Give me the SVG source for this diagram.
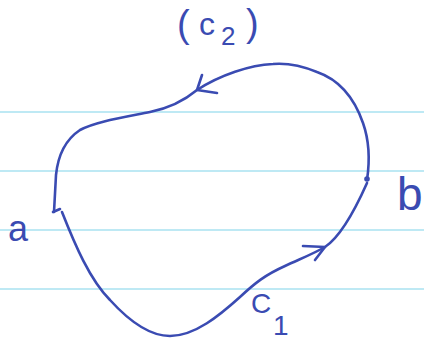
<svg xmlns="http://www.w3.org/2000/svg" width="424" height="341" viewBox="0 0 424 341">
<style>
.rule{stroke:#a8e2f0;stroke-width:1.6;fill:none}
.ink{stroke:#3a4bb2;stroke-width:2.6;fill:none;stroke-linecap:round;stroke-linejoin:round}
.lbl{fill:#3a4bb2;font-family:"Liberation Sans",Arial,sans-serif}
</style>
<rect width="424" height="341" fill="#ffffff"/>
<g id="paper">
<line class="rule" x1="0" y1="112" x2="424" y2="112"/>
<line class="rule" x1="0" y1="171" x2="424" y2="171"/>
<line class="rule" x1="0" y1="230" x2="424" y2="230"/>
<line class="rule" x1="0" y1="289" x2="424" y2="289"/>
</g>
<g id="connectors">
<path id="c2" class="ink" d="M367,180 C370,160 369,140 363,123 C355,100 340,80 317,72 C300,65 285,63 273,64 C250,65 220,75 197,90 C185,100 170,108 150,112 C120,118 95,122 80,130 C65,140 58,155 56,175 L54,212"/>
<path id="c2-arrow" class="ink" d="M202,75 L197,90 L217,93"/>
<path id="c1" class="ink" d="M62,212 C75,245 90,280 110,300 C130,322 150,336 170,336 C195,336 220,315 240,297 C255,283 265,275 285,266 C300,259 315,253 325,247 C340,237 355,210 367,183"/>
<path id="c1-arrow" class="ink" d="M303,246 L325,247 L315,260"/>
</g>
<g id="node-a">
<path class="ink" d="M53,212 L60,209" stroke-width="3.5"/>
<text class="lbl" x="8" y="241" font-size="36">a</text>
</g>
<g id="node-b">
<circle cx="367" cy="179" r="2.8" fill="#3a4bb2"/>
<text class="lbl" x="397" y="210" font-size="46">b</text>
</g>
<g id="label-c2">
<text class="lbl" font-size="32"><tspan x="177" y="37" font-size="38">(</tspan><tspan x="199" y="35">c</tspan><tspan x="221" y="45" font-size="26">2</tspan><tspan x="246" y="36" font-size="38">)</tspan></text>
</g>
<g id="label-c1">
<text class="lbl" font-size="28"><tspan x="251" y="313">C</tspan><tspan x="273" y="335">1</tspan></text>
</g>
</svg>
